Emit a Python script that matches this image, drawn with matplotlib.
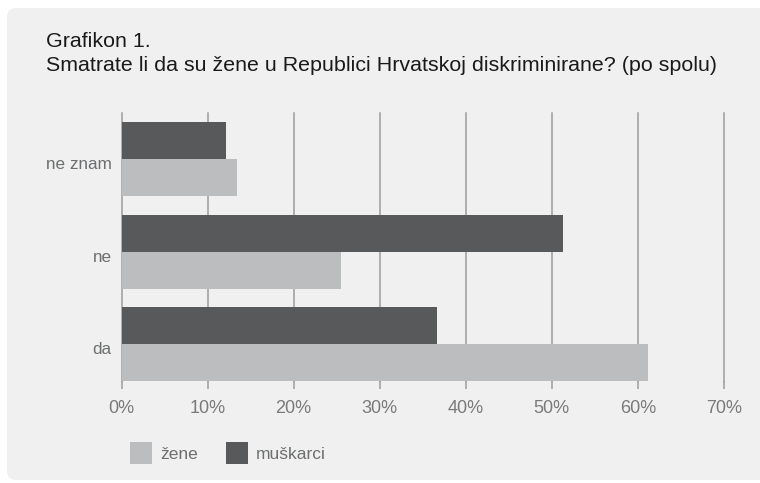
import numpy as np
import matplotlib.pyplot as plt
import matplotlib.transforms as mtransforms
from matplotlib.patches import FancyBboxPatch, Patch

plt.rcParams['font.family'] = ['Liberation Sans', 'DejaVu Sans']

categories = ['da', 'ne', 'ne znam']
zene = [61.2, 25.5, 13.4]
muskarci = [36.7, 51.3, 12.1]
xticks = [0, 10, 20, 30, 40, 50, 60, 70]
xtick_labels = ['0%', '10%', '20%', '30%', '40%', '50%', '60%', '70%']

light = '#bcbdbf'
dark = '#58595b'
bg = '#f0f0f0'
gridc = '#9c9c9c'
labc = '#7a7a7c'

W, H = 760, 483
fig = plt.figure(figsize=(W / 100, H / 100), dpi=100)
fig.patch.set_facecolor('white')

# grey rounded panel behind everything
panel = FancyBboxPatch((7 / W, 3 / H), (W + 20 - 7) / W, (480 - 8) / H,
                       boxstyle='round,pad=0,rounding_size=0.012',
                       mutation_aspect=W / H,
                       transform=fig.transFigure, facecolor=bg,
                       edgecolor='none', zorder=0)
fig.patches.append(panel)

fig.text(46 / W, 1 - 46.7 / H, 'Grafikon 1.', fontsize=15.4, color='#1a1a1a',
         va='baseline', ha='left')
fig.text(46 / W, 1 - 70.7 / H,
         'Smatrate li da su žene u Republici Hrvatskoj diskriminirane? (po spolu)',
         fontsize=15.4, color='#1a1a1a', va='baseline', ha='left')

ax = fig.add_axes([121.5 / W, (H - 381) / H, (724 - 121.5) / W, (381 - 112.75) / H])
ax.set_facecolor('none')
ax.set_zorder(2)

y = np.arange(len(categories))
ax.barh(y - 0.2, zene, height=0.4, color=light, zorder=3, label='žene')
ax.barh(y + 0.2, muskarci, height=0.4, color=dark, zorder=3, label='muškarci')

ax.set_xlim(0, 70)
ax.set_ylim(-0.4, 2.5)
for xv in xticks:
    ax.axvline(xv, color=gridc, lw=1.1, zorder=1, clip_on=False)

ax.set_xticks(xticks)
ax.set_xticklabels(xtick_labels)
ax.set_yticks(y)
ax.set_yticklabels(categories)
ax.tick_params(axis='x', length=6, width=1.1, color=gridc, labelcolor=labc,
               labelsize=13, pad=8)
ax.tick_params(axis='y', length=0, labelcolor='#6d6e70', labelsize=12.3, pad=7)
# category labels sit a little below the group centre in the original
shift = mtransforms.ScaledTranslation(0, -0.04, fig.dpi_scale_trans)
for lab in ax.get_yticklabels():
    lab.set_transform(lab.get_transform() + shift)
for s in ax.spines.values():
    s.set_visible(False)

handles = [Patch(facecolor=light, edgecolor='none', label='žene'),
           Patch(facecolor=dark, edgecolor='none', label='muškarci')]
leg = fig.legend(handles=handles, loc='center left', bbox_to_anchor=(114 / W, 1 - 453 / H),
                 ncol=2, frameon=False, fontsize=12.5, labelcolor='#6d6e70',
                 handlelength=1.3, handleheight=1.6, handletextpad=0.45,
                 columnspacing=1.6)
leg.set_zorder(3)

fig.savefig('out.png', dpi=100, facecolor=fig.get_facecolor())
